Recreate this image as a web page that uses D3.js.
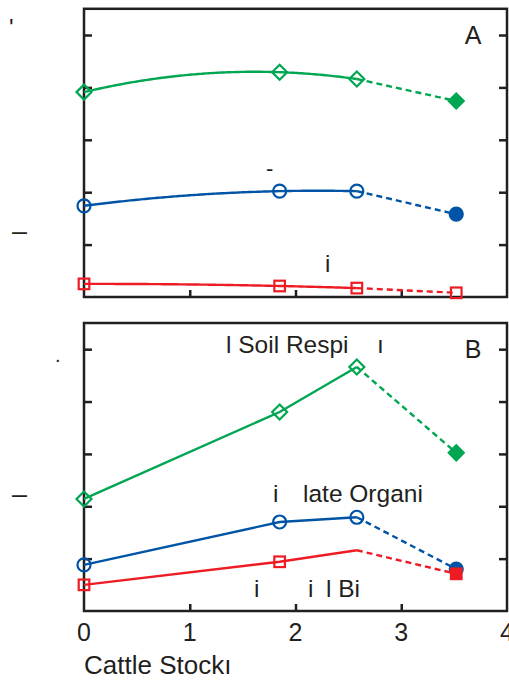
<!doctype html>
<html>
<head>
<script src="https://d3js.org/d3.v7.min.js"></script>
<style>
  body { margin: 0; background: #fff; }
  text { font-family: "Liberation Sans", Arial, sans-serif; fill: #231f20; }
</style>
</head>
<body>
<svg width="509" height="681"></svg>
<script>
// stocking rates (x) shared by every series
var stock = [0, 1.85, 2.58, 3.52];
var xTicks = [0, 1, 2, 3, 4];
var yTicks = [1, 2, 3, 4, 5];

// panel A (curved fits)
var aGreen = [3.91, 4.29, 4.16, 3.74];
var aBlue  = [1.74, 2.02, 2.02, 1.58];
var aRed   = [0.25, 0.21, 0.17, 0.08];

// panel B (straight lines)
var bGreen = [2.14, 3.80, 4.66, 3.02];
var bBlue  = [0.88, 1.70, 1.79, 0.80];
var bRed   = [0.50, 0.94, 1.16, 0.71];

// marker fill per point: "o" open, "f" filled, "" none
var aGreenMk = ["o", "o", "o", "f"], aBlueMk = ["o", "o", "o", "f"], aRedMk = ["o", "o", "o", "o"];
var bGreenMk = ["o", "o", "o", "f"], bBlueMk = ["o", "o", "o", "f"], bRedMk = ["o", "o", "", "f"];

var green = "#00a651", blue = "#0054a6", red = "#ed1c24", ink = "#231f20";

var svg = d3.select("svg");
var x = d3.scaleLinear().domain([0, 4]).range([84, 507]);

// quadratic through the first three points (the fitted curve of panel A)
function quadFit(xs, ys) {
  var x0 = xs[0], x1 = xs[1], x2 = xs[2];
  return function(t) {
    return ys[0] * (t - x1) * (t - x2) / ((x0 - x1) * (x0 - x2)) +
           ys[1] * (t - x0) * (t - x2) / ((x1 - x0) * (x1 - x2)) +
           ys[2] * (t - x0) * (t - x1) / ((x2 - x0) * (x2 - x1));
  };
}

function panel(top, bottom, label, series, fitted) {
  var y = d3.scaleLinear().domain([0, 5.5]).range([bottom, top]);
  var g = svg.append("g");

  // inner ticks left / right / bottom
  g.append("g").attr("transform", "translate(" + x(0) + ",0)")
    .call(d3.axisRight(y).tickValues(yTicks).tickSize(8).tickFormat(""));
  g.append("g").attr("transform", "translate(" + x(4) + ",0)")
    .call(d3.axisLeft(y).tickValues(yTicks).tickSize(8).tickFormat(""));
  g.append("g").attr("transform", "translate(0," + bottom + ")")
    .call(d3.axisTop(x).tickValues([1, 2, 3]).tickSize(7).tickFormat(""));
  g.selectAll(".domain").remove();
  g.selectAll(".tick line").attr("stroke", ink).attr("stroke-width", 2.5);

  g.append("rect")
    .attr("x", x(0)).attr("y", top)
    .attr("width", x(4) - x(0)).attr("height", bottom - top)
    .attr("fill", "none").attr("stroke", ink).attr("stroke-width", 2.5);

  series.forEach(function(s) {
    var pts = stock.map(function(v, i) { return [x(v), y(s.vals[i])]; });
    var solid;
    if (fitted) {
      var f = quadFit(stock.slice(0, 3), s.vals.slice(0, 3));
      var ts = d3.range(0, stock[2], 0.02).concat([stock[2]]);
      solid = d3.line()(ts.map(function(t) { return [x(t), y(f(t))]; }));
    } else {
      solid = d3.line()(pts.slice(0, 3));
    }
    g.append("path").attr("d", solid)
      .attr("fill", "none").attr("stroke", s.color).attr("stroke-width", 2.4);
    g.append("path").attr("d", d3.line()(pts.slice(2)))
      .attr("fill", "none").attr("stroke", s.color).attr("stroke-width", 2.4)
      .attr("stroke-dasharray", "6,4");

    pts.forEach(function(p, i) {
      var m = s.marks[i];
      if (!m) return;
      var fill = m == "f" ? s.color : "none";
      var sym;
      if (s.shape == "diamond") {
        sym = g.append("path").attr("d", "M0,-7.5L7.5,0L0,7.5L-7.5,0Z");
      } else if (s.shape == "circle") {
        sym = g.append("circle").attr("r", 6.5);
      } else {
        sym = g.append("rect").attr("x", -5.3).attr("y", -5.3).attr("width", 10.6).attr("height", 10.6);
      }
      sym.attr("transform", "translate(" + p[0] + "," + p[1] + ")")
        .attr("fill", fill).attr("stroke", s.color).attr("stroke-width", 2.2);
    });
  });

  g.append("text").attr("x", 473).attr("y", top + 35)
    .attr("text-anchor", "middle").style("font-size", "25px").text(label);
  return g;
}

panel(8.8, 297, "A", [
  {vals: aGreen, marks: aGreenMk, color: green, shape: "diamond"},
  {vals: aBlue, marks: aBlueMk, color: blue, shape: "circle"},
  {vals: aRed, marks: aRedMk, color: red, shape: "square"}
], true);

panel(323, 611, "B", [
  {vals: bGreen, marks: bGreenMk, color: green, shape: "diamond"},
  {vals: bBlue, marks: bBlueMk, color: blue, shape: "circle"},
  {vals: bRed, marks: bRedMk, color: red, shape: "square"}
], false);

// x axis labels (the "4" is clipped by the page edge, as in the figure)
svg.selectAll(".xl").data(xTicks).enter().append("text")
  .attr("x", function(d) { return x(d); }).attr("y", 641)
  .attr("text-anchor", "middle").style("font-size", "25px")
  .text(function(d) { return d; });

svg.append("text").attr("x", 84).attr("y", 674)
  .style("font-size", "26px").text("Cattle Stockı");

// broken text fragments as they appear in the figure
var frags = [
  [9, 36, "'", 24], [12, 240, "–", 27], [55, 362, ".", 20], [12, 503, "–", 27],
  [266, 176, "-", 22], [325, 272, "i", 24],
  [226, 353, "l Soil Respi", 24.5], [377, 353, "ı", 24.5],
  [273, 502, "i", 24.5], [303, 502, "late Organi", 24.5],
  [254, 597, "i", 24.5], [308, 597, "i", 24.5], [326, 597, "l Bi", 24.5]
];
svg.selectAll(".fr").data(frags).enter().append("text")
  .attr("x", function(d) { return d[0]; }).attr("y", function(d) { return d[1]; })
  .style("font-size", function(d) { return d[3] + "px"; })
  .text(function(d) { return d[2]; });
</script>
</body>
</html>
